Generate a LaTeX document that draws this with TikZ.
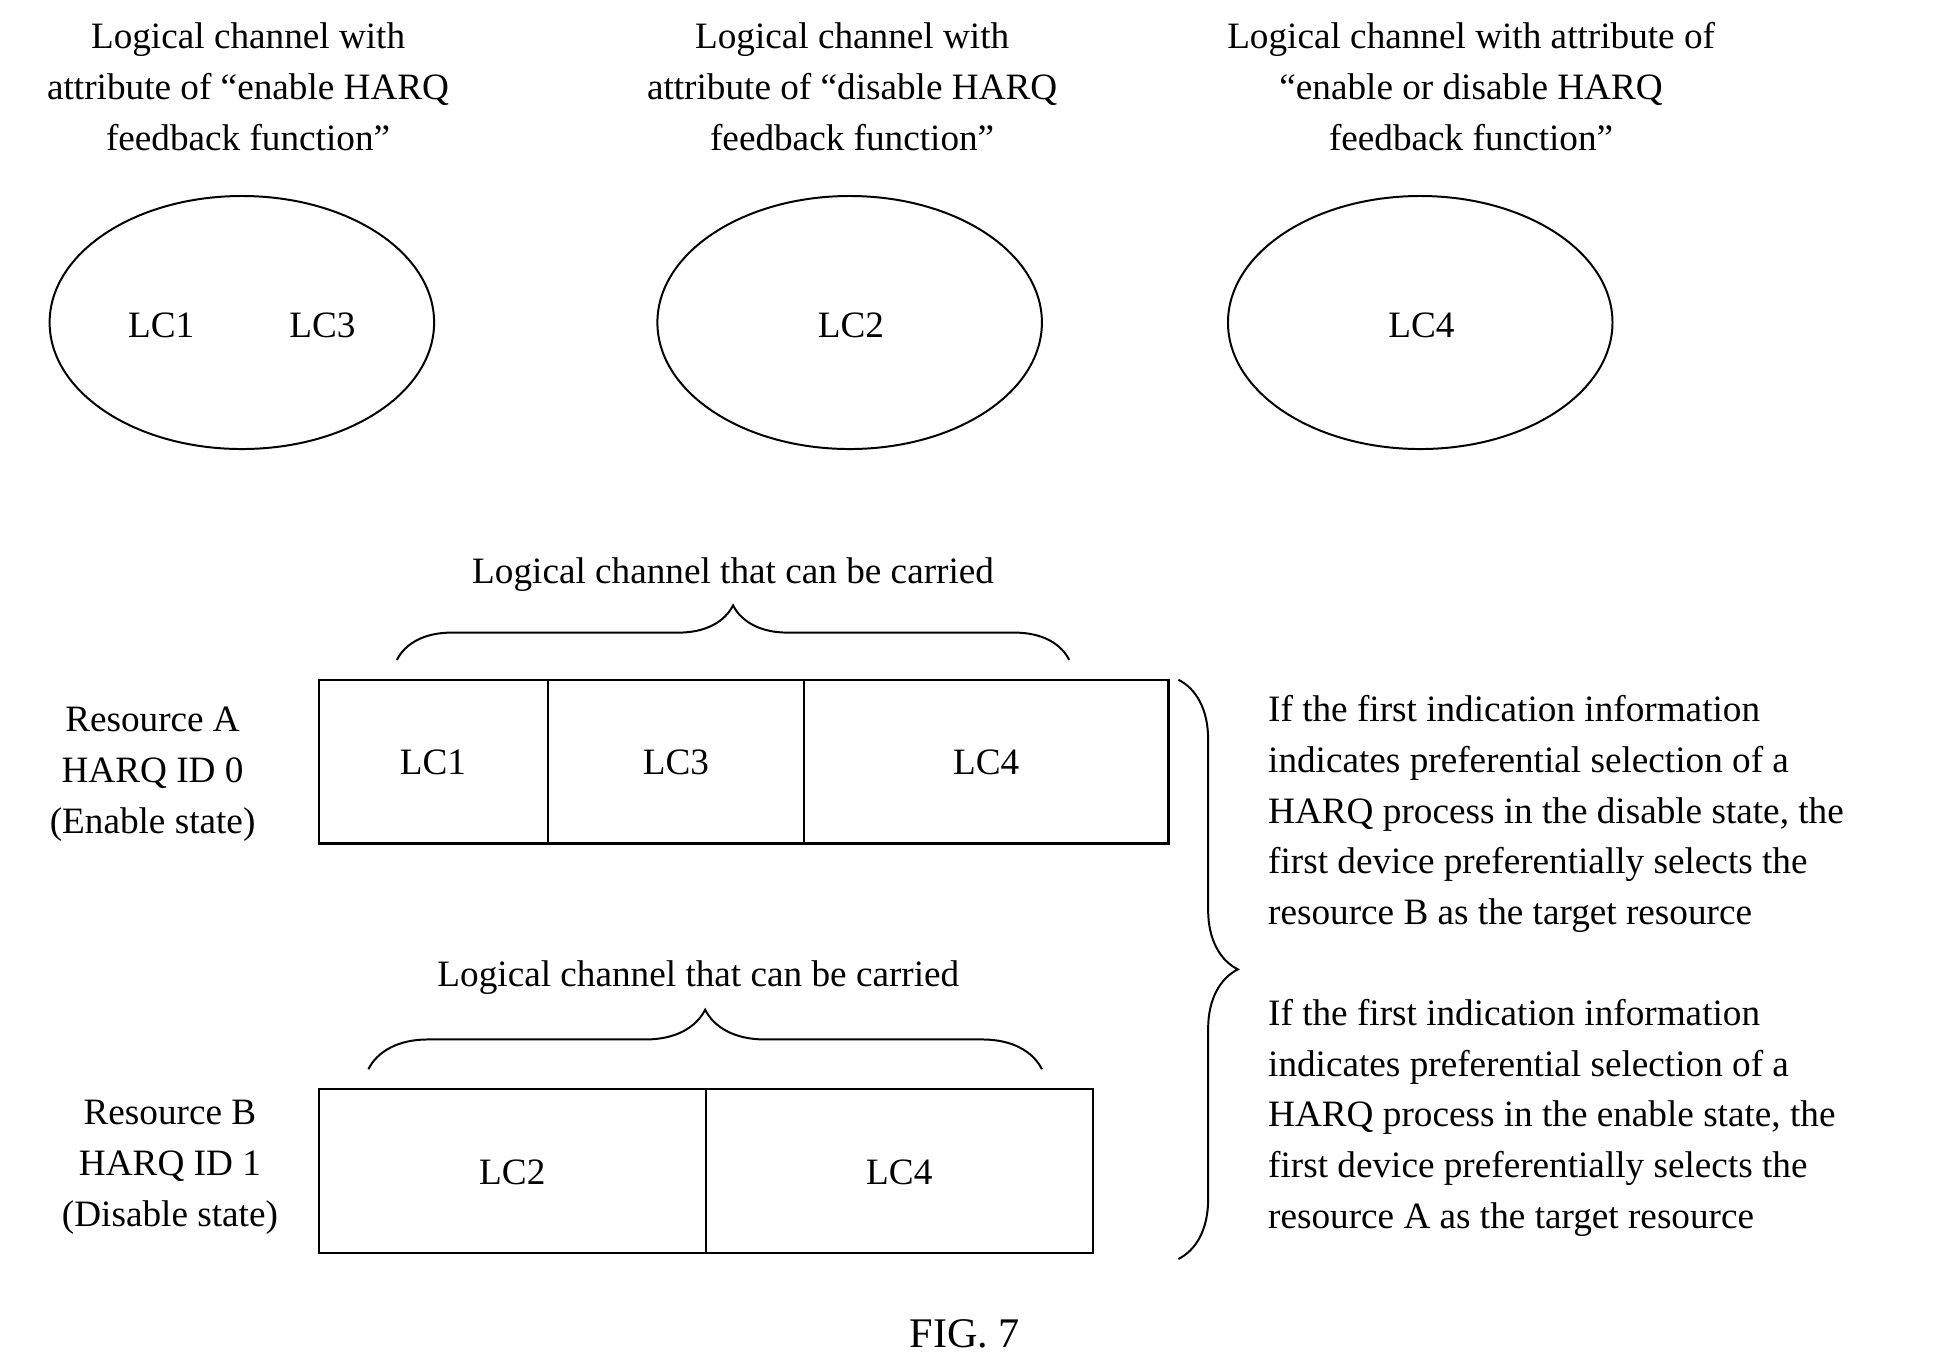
\documentclass[tikz,border=0pt]{standalone}
\usepackage{fontspec}
\setmainfont{Liberation Serif}
\usetikzlibrary{decorations.pathreplacing}
\begin{document}
\begin{tikzpicture}[x=0.5pt,y=-0.5pt,
  every node/.style={font=\fontsize{15}{20.5}\selectfont,inner sep=0pt},
  ttl/.style={align=center},
  ell/.style={draw,line width=0.8pt},
  box/.style={draw,line width=0.9pt},
  brc/.style={draw,line width=0.8pt,decorate,decoration={brace,amplitude=#1}},
  rtxt/.style={align=left,anchor=north west}]
\useasboundingbox (0,0) rectangle (1560,1100);
\node[ttl] (t1) at (200,70) {Logical channel with\\attribute of “enable HARQ\\feedback function”};
\node[ttl] (t2) at (687,70) {Logical channel with\\attribute of “disable HARQ\\feedback function”};
\node[ttl] (t3) at (1186,70) {Logical channel with attribute of\\“enable or disable HARQ\\feedback function”};
\draw[ell] (195,260) ellipse [x radius=155,y radius=102];
\draw[ell] (685,260) ellipse [x radius=155,y radius=102];
\draw[ell] (1145,260) ellipse [x radius=155,y radius=102];
\node (e1) at (130,262) {LC1};
\node (e3) at (260,262) {LC3};
\node (e2) at (686,262) {LC2};
\node (e4) at (1146,262) {LC4};
% resource A
\node (la) at (591,463) {Logical channel that can be carried};
\coordinate (ba1) at (320,532); \coordinate (ba2) at (862,532);
\draw[brc=22pt] (ba1) -- (ba2);
\draw[box] (257,548) rectangle (942,680);
\draw[box] (442,548) -- (442,680) (648,548) -- (648,680);
\node (a1) at (349,615) {LC1};
\node (a3) at (545,615) {LC3};
\node (a4) at (795,615) {LC4};
\node[ttl] (ra) at (123,624) {Resource A\\HARQ ID 0\\(Enable state)};
% resource B
\node (lb) at (563,788) {Logical channel that can be carried};
\coordinate (bb1) at (297,862); \coordinate (bb2) at (840,862);
\draw[brc=24pt] (bb1) -- (bb2);
\draw[box] (257,878) rectangle (881,1010);
\draw[box] (569,878) -- (569,1010);
\node (b2) at (413,945) {LC2};
\node (b4) at (725,945) {LC4};
\node[ttl] (rb) at (137,941) {Resource B\\HARQ ID 1\\(Disable state)};
% big brace
\coordinate (r1) at (950,548); \coordinate (r2) at (950,1015);
\draw[brc=24pt] (r1) -- (r2);
\node[rtxt] (x1) at (1022,560) {If the first indication information\\indicates preferential selection of a\\HARQ process in the disable state, the\\first device preferentially selects the\\resource B as the target resource};
\node[rtxt] (x2) at (1022,805) {If the first indication information\\indicates preferential selection of a\\HARQ process in the enable state, the\\first device preferentially selects the\\resource A as the target resource};
\node (fig) at (778,1075) {\fontsize{17}{20}\selectfont FIG. 7};
\end{tikzpicture}
\end{document}
